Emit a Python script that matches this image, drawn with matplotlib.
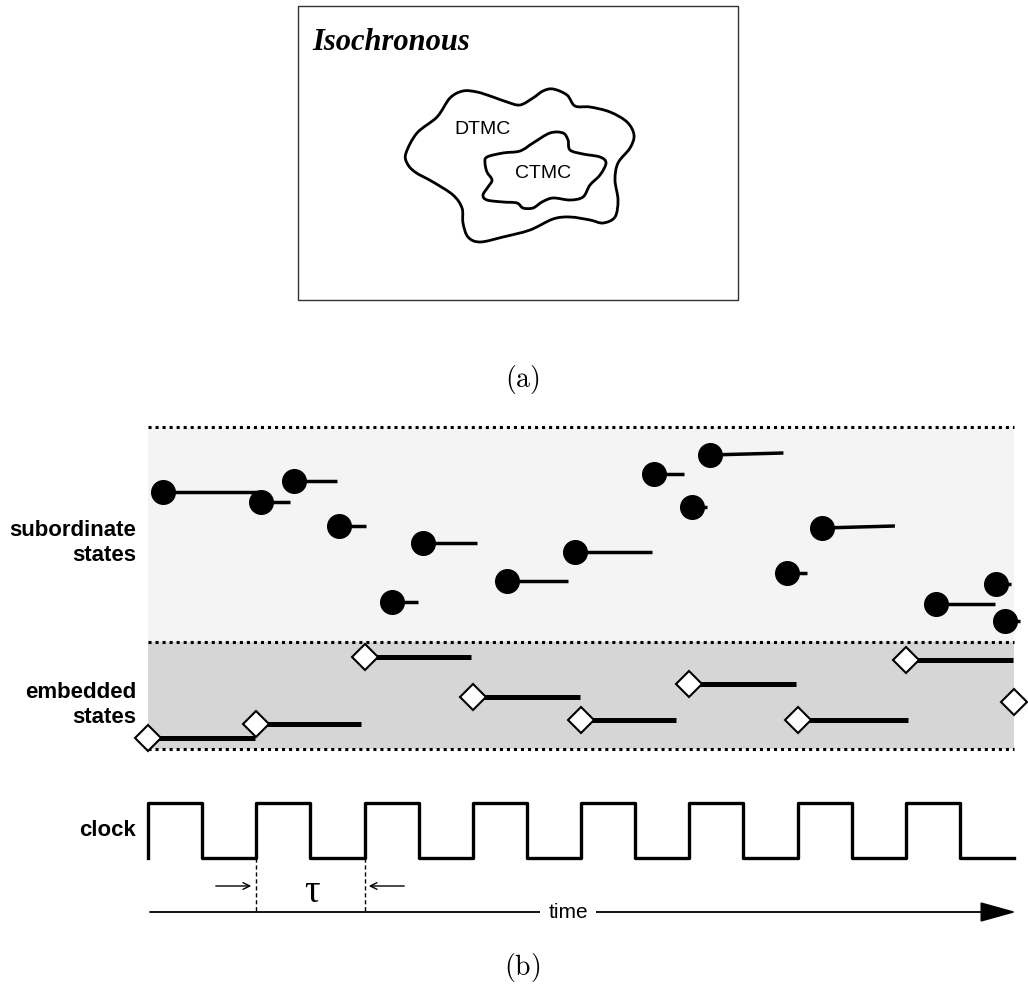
import numpy as np
import matplotlib.pyplot as plt
from matplotlib.path import Path
from matplotlib.patches import PathPatch, Rectangle
from matplotlib.transforms import Affine2D

plt.rcParams['mathtext.fontset'] = 'cm'

# --- panel (a): nested regions, outline points in page pixels ---
outer_x = [406, 417, 437, 450, 463, 477, 493, 507, 520, 533, 543, 553, 567, 575, 590, 610, 627, 634,
           630, 618, 615, 618, 615, 603, 590, 570, 553, 530, 503, 480, 468, 463, 462, 453, 433, 415, 407]
outer_y = [153, 133, 117, 98, 91, 92, 97, 102, 105, 98, 91, 89, 95, 106, 107, 112, 122, 135,
           148, 163, 180, 200, 217, 223, 220, 217, 219, 230, 237, 242, 237, 223, 208, 195, 182, 172, 163]
inner_x = [487, 503, 520, 533, 550, 563, 568, 570, 583, 600, 606, 600, 590, 583, 570, 553, 542, 533,
           523, 517, 503, 487, 483, 488, 492, 487, 485]
inner_y = [157, 153, 151, 143, 133, 133, 140, 150, 154, 157, 163, 175, 185, 197, 200, 198, 202, 208,
           208, 203, 202, 200, 195, 187, 180, 172, 163]

# --- panel (b): times in clock periods, rows in page pixels ---
sub_t = [0.14, 1.04, 1.35, 1.76, 2.25, 2.54, 3.32, 3.94, 4.67, 5.03, 5.19, 5.90, 6.23, 7.28, 7.83, 7.92]
sub_end = [1.02, 1.31, 1.75, 2.01, 2.49, 3.04, 3.88, 4.66, 4.95, 5.16, 5.87, 6.09, 6.90, 7.82, 7.97, 8.06]
sub_y = [492, 502, 481, 526, 602, 543, 581, 552, 474, 507, 455, 573, 528, 604, 584, 621]
sub_y_end = [492, 502, 481, 526, 602, 543, 581, 552, 474, 507, 453, 573, 526, 604, 584, 621]

emb_t = [0, 1, 2, 3, 4, 5, 6, 7, 8]
emb_end = [0.99, 1.97, 2.98, 3.99, 4.88, 5.99, 7.02, 7.99, 8]
emb_y = [738, 724, 657, 697, 720, 684, 720, 660, 702]

clock_rise = [0, 1, 2, 3, 4, 5, 6, 7]
clock_fall = [0.5, 1.5, 2.5, 3.5, 4.5, 5.5, 6.5, 7.5]
clock_stop = 8.0

x0, period = 148, 108.25


def smooth_closed(xs, ys):
    # closed Catmull-Rom curve through the outline points
    p = np.column_stack([xs, ys]).astype(float)
    n = len(p)
    verts = [p[0]]
    codes = [Path.MOVETO]
    for i in range(n):
        a, b, c, d = p[i - 1], p[i], p[(i + 1) % n], p[(i + 2) % n]
        verts += [b + (c - a) / 6, c - (d - b) / 6, c]
        codes += [Path.CURVE4] * 3
    return Path(verts, codes)


fig = plt.figure(figsize=(10.28, 10.08), dpi=100)
ax = fig.add_axes([0, 0, 1, 1])
ax.set_xlim(0, 1028)
ax.set_ylim(1008, 0)
ax.axis('off')

tb = Affine2D().scale(period, 1).translate(x0, 0) + ax.transData

# (a)
ax.add_patch(Rectangle((298, 6), 440, 294, fill=False, lw=1.0, ec='#333333'))
ax.text(312, 50, 'Isochronous', family='Liberation Serif', weight='bold', style='italic',
        fontsize=22, va='baseline')
for xs, ys in [(outer_x, outer_y), (inner_x, inner_y)]:
    ax.add_patch(PathPatch(smooth_closed(xs, ys), fill=False, lw=2, ec='black'))
ax.text(482, 129, 'DTMC', family='Liberation Sans', fontsize=14, ha='center', va='center')
ax.text(543, 173, 'CTMC', family='Liberation Sans', fontsize=14, ha='center', va='center')
ax.text(522, 380, r'$\mathrm{(a)}$', fontsize=20, ha='center', va='center')

# (b) shaded bands
ax.add_patch(Rectangle((0, 427), 8, 215, transform=tb, fc='#f4f4f4', ec='none'))
ax.add_patch(Rectangle((0, 642), 8, 107, transform=tb, fc='#d6d6d6', ec='none'))
for yy in [427, 642, 749]:
    ax.plot([0, 8], [yy, yy], transform=tb, color='black', lw=2.2,
            linestyle=(0, (1, 1.3)), dash_capstyle='butt')

for t, te, y, ye in zip(sub_t, sub_end, sub_y, sub_y_end):
    ax.plot([t, te], [y, ye], transform=tb, color='black', lw=2.5, solid_capstyle='butt')
ax.plot(sub_t, sub_y, 'o', transform=tb, color='black', ms=17, zorder=5)

for t, te, y in zip(emb_t, emb_end, emb_y):
    ax.plot([t, te], [y, y], transform=tb, color='black', lw=3.6, solid_capstyle='butt')
ax.plot(emb_t, emb_y, 'D', transform=tb, mfc='white', mec='black', mew=1.5, ms=13.5,
        zorder=5, clip_on=False)

# clock square wave
hi, lo = 803, 858
cx, cy = [], []
for r, f in zip(clock_rise, clock_fall):
    cx += [r, r, f, f]
    cy += [lo, hi, hi, lo]
cx.append(clock_stop)
cy.append(lo)
ax.plot(cx, cy, transform=tb, color='black', lw=2.4, solid_joinstyle='round')

# period marker and time axis
for t in [1, 2]:
    ax.plot([t, t], [858, 912], transform=tb, color='black', lw=1, linestyle=(0, (3, 2)))
ax.annotate('', xy=(254, 886), xytext=(213, 886),
            arrowprops=dict(arrowstyle='->', lw=1, color='black', mutation_scale=12))
ax.annotate('', xy=(366, 886), xytext=(407, 886),
            arrowprops=dict(arrowstyle='->', lw=1, color='black', mutation_scale=12))
ax.text(312, 893, 'τ', family='Liberation Serif', fontsize=28, ha='center', va='center')
ax.annotate('', xy=(1016, 912), xytext=(150, 912),
            arrowprops=dict(arrowstyle='-|>,head_length=0.9,head_width=0.25', lw=1.3,
                            color='black', mutation_scale=25, shrinkA=0, shrinkB=0))
ax.text(568, 912, 'time', family='Liberation Sans', fontsize=15, ha='center', va='center',
        bbox=dict(fc='white', ec='none', pad=6))

lab = dict(family='Liberation Sans', weight='bold', fontsize=16, ha='right', va='center',
           multialignment='right', linespacing=1.3)
ax.text(136, 543, 'subordinate\nstates', **lab)
ax.text(136, 705, 'embedded\nstates', **lab)
ax.text(136, 830, 'clock', **lab)
ax.text(522, 967, r'$\mathrm{(b)}$', fontsize=20, ha='center', va='center')

fig.savefig('out.png', dpi=100)
